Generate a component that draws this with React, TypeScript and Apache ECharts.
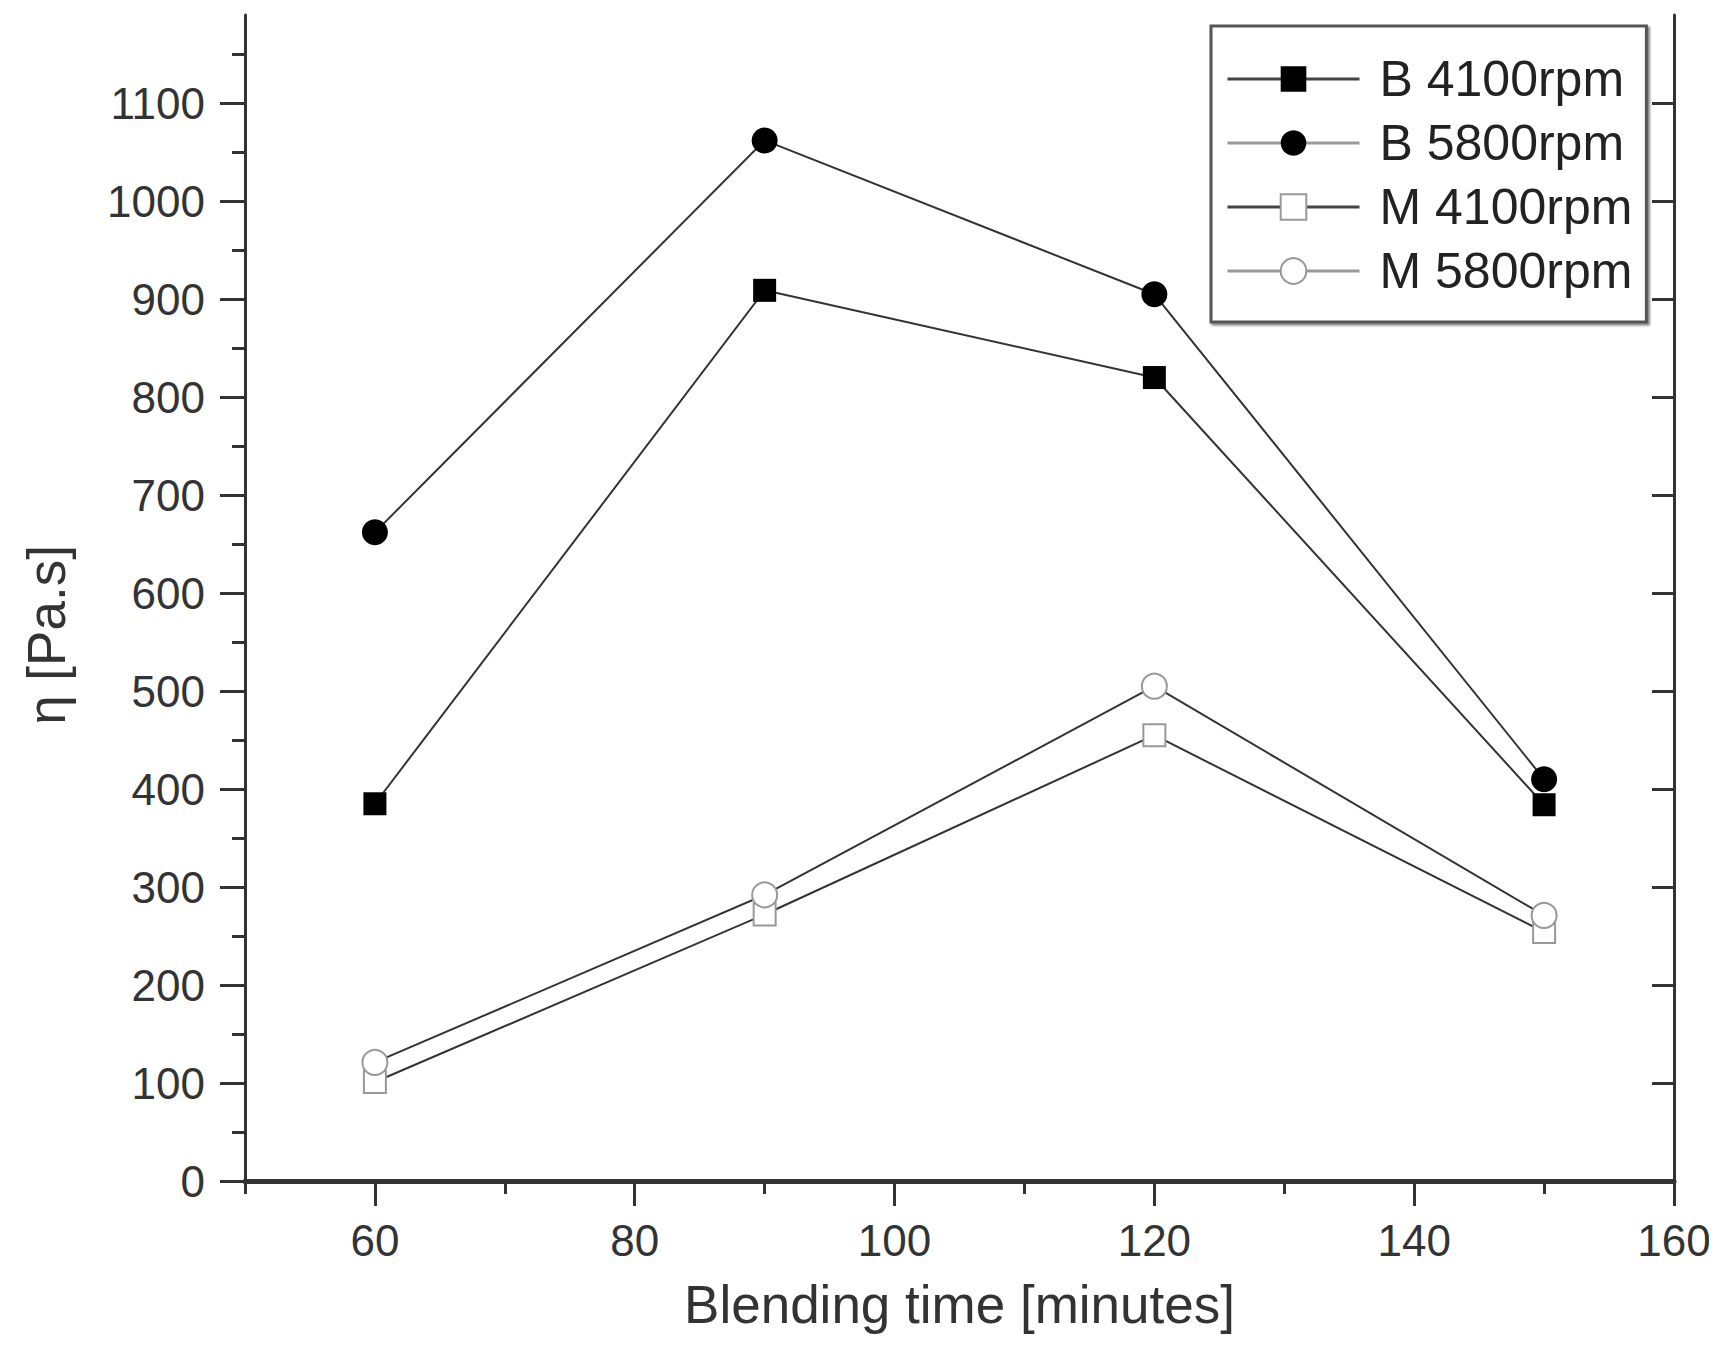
import React, { useEffect, useRef } from "react";
import * as echarts from "echarts";

const timeMinutes = [60, 90, 120, 150];
const b4100 = [385, 909, 820, 384];
const b5800 = [662, 1062, 905, 410];
const m4100 = [101, 272, 455, 254];
const m5800 = [121, 292, 505, 271];
const seriesNames = ["B 4100rpm", "B 5800rpm", "M 4100rpm", "M 5800rpm"];
const xMajorTicks = [60, 80, 100, 120, 140, 160];
const xMinorTicks = [50, 70, 90, 110, 130, 150];
const xTopTicks = [60, 70, 80, 90, 100, 110, 120, 130, 140, 150];
const yMajorTicks = [0, 100, 200, 300, 400, 500, 600, 700, 800, 900, 1000, 1100];
const yMinorTicks = [50, 150, 250, 350, 450, 550, 650, 750, 850, 950, 1050, 1150];

const FONT = "'Liberation Sans', Arial, Helvetica, sans-serif";
const AX = "#333";

function pairs(ys: number[]) {
  return timeMinutes.map((x, i) => [x, ys[i]]);
}

export default function App() {
  const ref = useRef<HTMLDivElement>(null);
  useEffect(() => {
    if (!ref.current) return;
    const chart = echarts.init(ref.current, null, { renderer: "svg" });
    const rect = { left: 237, top: 7, width: 1429, height: 1166, containLabel: false, outerBoundsMode: "none" };
    const hidden = { show: false };
    const lineBase = { color: AX, width: 2 };
    const plain = (v: number) => String(v);
    chart.setOption({
      animation: false,
      backgroundColor: "#fff",
      textStyle: { fontFamily: FONT },
      grid: [{ ...rect }, { ...rect }],
      xAxis: [
        {
          type: "value",
          gridIndex: 0,
          position: "bottom",
          min: 50,
          max: 160,
          axisLine: { show: true, lineStyle: { color: AX, width: 5 } },
          axisTick: { show: true, inside: false, length: 25, customValues: xMajorTicks, lineStyle: { color: AX, width: 3 } },
          axisLabel: { show: true, customValues: xMajorTicks, formatter: plain, fontSize: 44, color: AX, margin: 37, fontFamily: FONT },
          splitLine: hidden,
          name: "Blending time [minutes]",
          nameLocation: "middle",
          nameGap: 97,
          nameTextStyle: { fontSize: 53, color: AX, fontFamily: FONT },
        },
        {
          type: "value",
          gridIndex: 0,
          position: "top",
          min: 50,
          max: 160,
          axisLine: { show: true, lineStyle: { color: AX, width: 3 } },
          axisTick: { show: true, inside: true, length: 9, customValues: xTopTicks, lineStyle: { color: AX, width: 3 } },
          axisLabel: hidden,
          splitLine: hidden,
        },
        {
          type: "value",
          gridIndex: 1,
          position: "bottom",
          min: 50,
          max: 160,
          axisLine: hidden,
          axisTick: { show: true, inside: false, length: 13, customValues: xMinorTicks, lineStyle: { color: AX, width: 3 } },
          axisLabel: hidden,
          splitLine: hidden,
        },
      ],
      yAxis: [
        {
          type: "value",
          gridIndex: 0,
          position: "left",
          min: 0,
          max: 1190,
          axisLine: { show: true, lineStyle: { color: AX, width: 3 } },
          axisTick: { show: true, inside: false, length: 25, customValues: yMajorTicks, lineStyle: { color: AX, width: 3 } },
          axisLabel: { show: true, customValues: yMajorTicks, formatter: plain, fontSize: 44, color: AX, margin: 40, fontFamily: FONT },
          splitLine: hidden,
          name: "η [Pa.s]",
          nameLocation: "middle",
          nameGap: 172,
          nameTextStyle: { fontSize: 53, color: AX, fontFamily: FONT, padding: [0, 74, 0, 0] },
        },
        {
          type: "value",
          gridIndex: 0,
          position: "right",
          min: 0,
          max: 1190,
          axisLine: { show: true, lineStyle: { color: AX, width: 3 } },
          axisTick: { show: true, inside: true, length: 22, customValues: yMajorTicks, lineStyle: { color: AX, width: 3 } },
          axisLabel: hidden,
          splitLine: hidden,
        },
        {
          type: "value",
          gridIndex: 1,
          position: "left",
          min: 0,
          max: 1190,
          axisLine: hidden,
          axisTick: { show: true, inside: false, length: 13, customValues: yMinorTicks, lineStyle: { color: AX, width: 3 } },
          axisLabel: hidden,
          splitLine: hidden,
        },
      ],
      legend: {
        orient: "vertical",
        left: 1203,
        top: 18,
        padding: [28, 14, 26, 15],
        itemWidth: 132,
        itemHeight: 32,
        itemGap: 14,
        backgroundColor: "#fff",
        borderColor: "#555",
        borderWidth: 3,
        shadowColor: "rgba(0,0,0,0.5)",
        shadowOffsetX: 2,
        shadowOffsetY: 2,
        shadowBlur: 2,
        textStyle: { fontSize: 50, color: "#222", fontFamily: FONT, padding: [0, 0, 0, 15], lineHeight: 50 },
        data: [
          { name: seriesNames[0], lineStyle: { color: "#444", width: 3 } },
          { name: seriesNames[1], lineStyle: { color: "#999", width: 3 } },
          { name: seriesNames[2], lineStyle: { color: "#444", width: 3 } },
          { name: seriesNames[3], lineStyle: { color: "#999", width: 3 } },
        ],
      },
      series: [
        {
          name: seriesNames[0],
          type: "line",
          xAxisIndex: 0,
          yAxisIndex: 0,
          data: pairs(b4100),
          symbol: "rect",
          symbolSize: 23,
          lineStyle: lineBase,
          itemStyle: { color: "#000" },
        },
        {
          name: seriesNames[1],
          type: "line",
          xAxisIndex: 0,
          yAxisIndex: 0,
          data: pairs(b5800),
          symbol: "circle",
          symbolSize: 26,
          lineStyle: lineBase,
          itemStyle: { color: "#000" },
        },
        {
          name: seriesNames[2],
          type: "line",
          xAxisIndex: 0,
          yAxisIndex: 0,
          data: pairs(m4100),
          symbol: "rect",
          symbolSize: 22,
          lineStyle: lineBase,
          itemStyle: { color: "#fff", borderColor: "#999", borderWidth: 2 },
        },
        {
          name: seriesNames[3],
          type: "line",
          xAxisIndex: 0,
          yAxisIndex: 0,
          data: pairs(m5800),
          symbol: "circle",
          symbolSize: 25,
          lineStyle: lineBase,
          itemStyle: { color: "#fff", borderColor: "#999", borderWidth: 2 },
        },
      ],
    });
    return () => chart.dispose();
  }, []);
  return <div ref={ref} style={{ width: 1709, height: 1338, marginBottom: -8 }} />;
}
